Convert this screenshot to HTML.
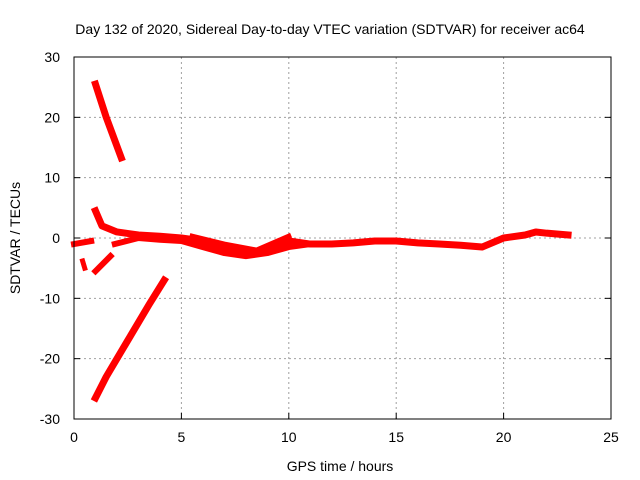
<!DOCTYPE html>
<html><head><meta charset="utf-8"><style>
body{margin:0;background:#fff}
svg{display:block;font-family:"Liberation Sans",sans-serif;font-size:14px}
</style></head><body>
<svg id="chart" width="640" height="480">
<text x="330" y="34" text-anchor="middle">Day 132 of 2020, Sidereal Day-to-day VTEC variation (SDTVAR) for receiver ac64</text>
<text x="340" y="471" text-anchor="middle">GPS time / hours</text>
<text transform="translate(20,238) rotate(-90)" text-anchor="middle">SDTVAR / TECUs</text>
<g id="grid"></g><g id="ticks"></g><g id="series"></g>
<rect x="74" y="57" width="537" height="362" fill="none" stroke="#000" stroke-width="1"/>
</svg>
<script>
const xTicks=[0,5,10,15,20,25];
const yTicks=[-30,-20,-10,0,10,20,30];
const segA=[[1.0,25.5],[1.5,20],[2.2,13.3]];
const segB=[[1.0,-26.5],[1.5,-23],[2.5,-17],[3.5,-11],[4.2,-7]];
const segC=[[1.0,-5.5],[1.7,-3]];
const segD=[[1.0,4.5],[1.3,2],[2,1],[3,0.5],[4,0.3],[5,0],[6,-0.5],[7,-1.5],[8,-2.5],[9,-2],[10,-0.5],[11,-1],[12,-1],[13,-0.8],[14,-0.5],[15,-0.5],[16,-0.8],[17,-1],[18,-1.2],[19,-1.5],[20,0],[21,0.5],[21.5,1],[22,0.8],[23,0.5]];
const segE=[[1.9,-1],[3,0],[4,-0.3],[5,-0.5],[6,-1.5],[7,-2.5],[8,-3],[9,-2.5],[10,-1.5],[11,-1]];
const segF=[[5.5,0.3],[7,-1],[8.5,-2],[10,0.3]];
const segG=[[0,-1],[0.8,-0.5]];
const segH=[[0.4,-3.8],[0.5,-5]];
const X=h=>74+h*537/25, Y=v=>238-v*362/60;
const NS='http://www.w3.org/2000/svg';
const g=document.getElementById('grid'),t=document.getElementById('ticks'),s=document.getElementById('series');
function mk(tag,at,p){const e=document.createElementNS(NS,tag);for(const k in at)e.setAttribute(k,at[k]);p.appendChild(e);return e;}
xTicks.forEach(v=>{const x=X(v);
 if(v>0&&v<25){const l=mk('line',{x1:x,x2:x,y1:57,y2:419,stroke:'#a0a0a0','stroke-dasharray':'2,3'},g);
 }
 const tk=mk('line',{x1:x,x2:x,y1:419,y2:413,stroke:'#000'},t);
 
 const tx=mk('text',{x:x,y:442,'text-anchor':'middle'},t);tx.textContent=v;
 });
yTicks.forEach(v=>{const y=Y(v);
 if(v>-30&&v<30){const l=mk('line',{x1:74,x2:611,y1:y,y2:y,stroke:'#a0a0a0','stroke-dasharray':'2,3'},g);
 }
 const tk=mk('line',{x1:74,x2:80,y1:y,y2:y,stroke:'#000'},t);
 
 const tk2=mk('line',{x1:605,x2:611,y1:y,y2:y,stroke:'#000'},t);
 
 const tx=mk('text',{x:60,y:y+5,'text-anchor':'end'},t);tx.textContent=v;
 });
[[segA,7],[segB,7],[segC,6],[segD,7],[segE,6],[segF,5],[segG,6],[segH,5]].forEach(([d,w])=>{
 const p=mk('polyline',{points:d.map(q=>X(q[0])+','+Y(q[1])).join(' '),fill:'none',stroke:'#ff0000','stroke-width':w,'stroke-linejoin':'round','stroke-linecap':'square'},s);
 
 });
</script>
</body></html>
